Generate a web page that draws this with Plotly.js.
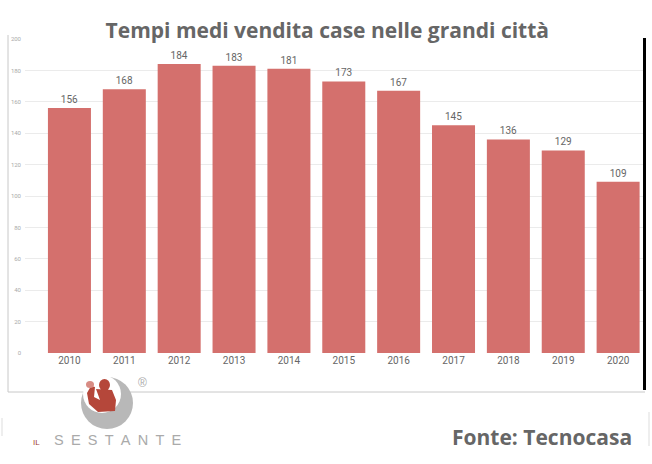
<!DOCTYPE html>
<html>
<head>
<meta charset="utf-8">
<script src="https://cdn.plot.ly/plotly-3.0.1.min.js"></script>
<style>
  html, body { margin: 0; padding: 0; background: #fff; overflow: hidden; }
  #chart { width: 652px; height: 464px; }
</style>
</head>
<body>
<div id="chart"></div>
<script>
    // Data
    const years = ['2010', '2011', '2012', '2013', '2014', '2015', '2016', '2017', '2018', '2019', '2020'];
    const days = [156, 168, 184, 183, 181, 173, 167, 145, 136, 129, 109];
    const yTicks = [0, 20, 40, 60, 80, 100, 120, 140, 160, 180, 200];

    // plot area in pixels: x 25..645, y 39..353
    const W = 652, H = 464, L = 25, R = 7, T = 39, B = 111;
    const px = x => (x - L) / (W - L - R);
    const py = y => (H - B - y) / (H - T - B);

    const trace = {
        x: years,
        y: days,
        type: 'bar',
        marker: { color: '#d4706d' },
        text: days.map(String),
        textposition: 'outside',
        cliponaxis: false,
        textfont: { family: 'Roboto, sans-serif', size: 10, color: '#666' },
        hoverinfo: 'x+y'
    };

    const frame = { xref: 'paper', yref: 'paper', layer: 'above' };
    const red = '#b5473a';
    const shapes = [
        // outer frame
        Object.assign({ type: 'line', x0: px(8), x1: px(8), y0: py(35), y1: py(392), line: { color: '#c8c8c8', width: 1 } }, frame),
        Object.assign({ type: 'line', x0: px(8), x1: px(645), y0: py(392), y1: py(392), line: { color: '#c8c8c8', width: 1 } }, frame),
        Object.assign({ type: 'line', x0: px(644.5), x1: px(644.5), y0: py(38), y1: py(390), line: { color: '#000', width: 3 } }, frame),
        // edge brackets
        Object.assign({ type: 'line', x0: px(2), x1: px(2), y0: py(418), y1: py(436), line: { color: '#ddd', width: 1 } }, frame),
        Object.assign({ type: 'line', x0: px(649), x1: px(649), y0: py(412), y1: py(446), line: { color: '#ddd', width: 1 } }, frame),
        // logo: crescent
        Object.assign({ type: 'circle', x0: px(81), x1: px(133), y0: py(429), y1: py(377), fillcolor: '#b8b8b8', line: { width: 0 } }, frame),
        Object.assign({ type: 'circle', x0: px(83), x1: px(121), y0: py(413), y1: py(375), fillcolor: '#fff', line: { width: 0 } }, frame),
        // logo: figure
        Object.assign({ type: 'circle', x0: px(99), x1: px(110), y0: py(391), y1: py(379), fillcolor: red, line: { width: 0 } }, frame),
        Object.assign({
            type: 'path',
            path: 'M ' + px(96) + ',' + py(389) + ' L ' + px(112) + ',' + py(390) + ' L ' + px(116) + ',' + py(400) +
                  ' L ' + px(115) + ',' + py(411) + ' L ' + px(98) + ',' + py(412) + ' L ' + px(89) + ',' + py(404) +
                  ' L ' + px(87) + ',' + py(393) + ' L ' + px(91) + ',' + py(386) + ' L ' + px(95) + ',' + py(387) +
                  ' L ' + px(94) + ',' + py(397) + ' L ' + px(100) + ',' + py(400) + ' Z',
            fillcolor: red, line: { width: 0 }
        }, frame),
        Object.assign({ type: 'circle', x0: px(86), x1: px(94), y0: py(388), y1: py(381), fillcolor: '#d88c84', line: { width: 0 } }, frame)
    ];

    const layout = {
        width: W,
        height: H,
        margin: { l: L, r: R, t: T, b: B, pad: 0 },
        title: {
            text: '<b>Tempi medi vendita case nelle grandi città</b>',
            font: { family: '"Open Sans", sans-serif', size: 21, color: '#666' },
            x: 0.502,
            xanchor: 'center',
            y: 1 - 31 / H,
            yanchor: 'middle'
        },
        xaxis: {
            type: 'category',
            range: [-0.81, 10.49],
            showgrid: false,
            showline: false,
            zeroline: false,
            ticks: '',
            tickfont: { family: 'Roboto, sans-serif', size: 10, color: '#666' }
        },
        yaxis: {
            range: [0, 200],
            tickvals: yTicks,
            ticktext: yTicks.map(String),
            showgrid: true,
            gridcolor: '#ebebeb',
            gridwidth: 1,
            zeroline: false,
            showline: false,
            ticks: '',
            ticklabelstandoff: 3,
            tickfont: { family: 'Roboto, sans-serif', size: 6, color: '#aaa' }
        },
        bargap: 0.216,
        showlegend: false,
        paper_bgcolor: '#fff',
        plot_bgcolor: '#fff',
        shapes: shapes,
        annotations: [
            {
                text: '<b>Fonte: Tecnocasa</b>',
                xref: 'paper', yref: 'paper',
                x: px(634), y: py(437), xanchor: 'right', yanchor: 'middle',
                showarrow: false,
                font: { family: '"Open Sans", sans-serif', size: 21, color: '#666' }
            },
            {
                text: 'S\u2002E\u2002S\u2002T\u2002A\u2002N\u2002T\u2002E',
                xref: 'paper', yref: 'paper',
                x: px(52), y: py(440), xanchor: 'left', yanchor: 'middle',
                showarrow: false,
                font: { family: '"Liberation Sans", sans-serif', size: 14.5, color: '#aaa' }
            },
            {
                text: 'IL',
                xref: 'paper', yref: 'paper',
                x: px(31), y: py(442), xanchor: 'left', yanchor: 'middle',
                showarrow: false,
                font: { family: '"Liberation Sans", sans-serif', size: 8, color: '#a04030' }
            },
            {
                text: '®',
                xref: 'paper', yref: 'paper',
                x: px(142), y: py(383), xanchor: 'center', yanchor: 'middle',
                showarrow: false,
                font: { family: '"Liberation Sans", sans-serif', size: 12, color: '#aaa' }
            }
        ]
    };

    const config = {
        responsive: false,
        displayModeBar: false
    };

    Plotly.newPlot('chart', [trace], layout, config);
</script>
</body>
</html>
